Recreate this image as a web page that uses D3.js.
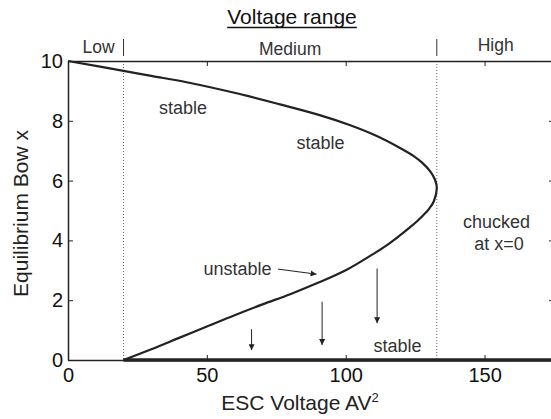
<!DOCTYPE html>
<html>
<head>
<meta charset="utf-8">
<script src="https://cdn.jsdelivr.net/npm/d3@7/dist/d3.min.js"></script>
<style>
  html, body { margin: 0; padding: 0; background: #fff; }
  svg { display: block; font-family: "Liberation Sans", Arial, Helvetica, sans-serif; }
</style>
</head>
<body>
<svg id="chart" width="551" height="419"></svg>
<script>
// Equilibrium bow versus ESC voltage: upper (stable) and lower (unstable) branches
const upperVoltage = [0, 20, 30, 42.7, 60.7, 76.3, 90.6, 101.4, 111, 119.4, 124.5, 127.5, 130.5, 132.2, 132.8];
const upperBow     = [10, 9.67, 9.5, 9.29, 8.92, 8.55, 8.19, 7.86, 7.5, 7.1, 6.82, 6.6, 6.3, 6.02, 5.75];
const lowerVoltage = [20, 30, 40, 50, 60, 70, 80, 90, 100, 110, 115, 119.3, 123, 125.8, 128, 129.8, 131.7, 132.8];
const lowerBow     = [0, 0.36, 0.74, 1.12, 1.5, 1.86, 2.2, 2.58, 3.0, 3.55, 3.85, 4.15, 4.43, 4.65, 4.85, 5.03, 5.3, 5.75];

// Range boundaries (voltage) and the chucked state along x = 0
const rangeBounds = [20, 132.8];
const chuckedFrom = 20;

// Downward arrows showing collapse toward x = 0
const dropVoltage = [66.1, 91.5, 111.3];
const dropFrom    = [1.03, 1.95, 3.06];
const dropTo      = [0.33, 0.5, 1.23];

const xTicks = [0, 50, 100, 150];
const yTicks = [0, 2, 4, 6, 8, 10];

const svg = d3.select("#chart");
const plotL = 68, plotR = 554, plotT = 61, plotB = 360;

const x = d3.scaleLinear().domain([0, 175]).range([plotL, plotR]);
const y = d3.scaleLinear().domain([0, 10]).range([plotB, plotT]);

const ink = "#222";
const textInk = "#333";

// arrowhead marker
svg.append("defs").append("marker")
  .attr("id", "head")
  .attr("viewBox", "0 0 10 10")
  .attr("refX", 10).attr("refY", 5)
  .attr("markerWidth", 6).attr("markerHeight", 6)
  .attr("markerUnits", "userSpaceOnUse")
  .attr("orient", "auto")
  .append("path").attr("d", "M0,0 L10,5 L0,10 Z").attr("fill", ink);

// region boundaries (dotted)
svg.selectAll("line.bound").data(rangeBounds).enter().append("line")
  .attr("class", "bound")
  .attr("x1", d => x(d)).attr("x2", d => x(d))
  .attr("y1", plotT).attr("y2", plotB)
  .attr("stroke", "#444").attr("stroke-width", 0.8)
  .attr("stroke-dasharray", "1,2");

// axes with inward ticks on all four sides
const xAxisB = d3.axisBottom(x).tickValues(xTicks).tickSizeInner(-5).tickSizeOuter(0).tickPadding(8);
const xAxisT = d3.axisTop(x).tickValues(xTicks).tickSizeInner(-5).tickSizeOuter(0).tickFormat("");
const yAxisL = d3.axisLeft(y).tickValues(yTicks).tickSizeInner(-5).tickSizeOuter(0).tickPadding(5);
const yAxisR = d3.axisRight(y).tickValues(yTicks).tickSizeInner(-5).tickSizeOuter(0).tickFormat("");

function styleAxis(g) {
  g.select(".domain").attr("stroke", ink).attr("stroke-width", 1.5);
  g.selectAll(".tick line").attr("stroke", ink).attr("stroke-width", 1);
  g.selectAll(".tick text").attr("fill", "#111").style("font-size", "20px")
    .style("font-family", "'Liberation Sans', Arial, Helvetica, sans-serif");
}

svg.append("g").attr("transform", `translate(0,${plotB})`).call(xAxisB).call(styleAxis);
svg.append("g").attr("transform", `translate(0,${plotT})`).call(xAxisT).call(styleAxis);
svg.append("g").attr("transform", `translate(${plotL},0)`).call(yAxisL).call(styleAxis);
svg.append("g").attr("transform", `translate(${plotR},0)`).call(yAxisR).call(styleAxis);

// chucked state: thick line at x = 0
svg.append("line")
  .attr("x1", x(chuckedFrom)).attr("x2", x(175))
  .attr("y1", y(0)).attr("y2", y(0))
  .attr("stroke", ink).attr("stroke-width", 3.5);

// equilibrium curve: upper branch then lower branch back down to x = 0
const curvePts = upperVoltage.map((v, i) => [v, upperBow[i]])
  .concat(lowerVoltage.map((v, i) => [v, lowerBow[i]]).reverse().slice(1));

svg.append("path")
  .datum(curvePts)
  .attr("fill", "none")
  .attr("stroke", ink)
  .attr("stroke-width", 2.2)
  .attr("stroke-linejoin", "round")
  .attr("d", d3.line().x(d => x(d[0])).y(d => y(d[1])).curve(d3.curveCatmullRom.alpha(0.5)));

// downward arrows
svg.selectAll("line.drop").data(dropVoltage).enter().append("line")
  .attr("class", "drop")
  .attr("x1", d => x(d)).attr("x2", d => x(d))
  .attr("y1", (d, i) => y(dropFrom[i])).attr("y2", (d, i) => y(dropTo[i]))
  .attr("stroke", ink).attr("stroke-width", 1)
  .attr("marker-end", "url(#head)");

// pointer from "unstable" label to the lower branch
svg.append("line")
  .attr("x1", x(75.6)).attr("y1", y(3.04))
  .attr("x2", x(89.5)).attr("y2", y(2.87))
  .attr("stroke", ink).attr("stroke-width", 1)
  .attr("marker-end", "url(#head)");

// annotations
const ann = svg.append("g").attr("fill", textInk).style("font-size", "18px");
const notes = [
  { t: "stable", x: 183, y: 114 },
  { t: "stable", x: 320.5, y: 149 },
  { t: "unstable", x: 237.5, y: 275 },
  { t: "stable", x: 397.5, y: 352 },
  { t: "chucked", x: 496.5, y: 228 },
  { t: "at x=0", x: 499, y: 250 }
];
ann.selectAll("text").data(notes).enter().append("text")
  .attr("x", d => d.x).attr("y", d => d.y)
  .attr("text-anchor", "middle").text(d => d.t);

// voltage range header
const header = svg.append("g").attr("fill", textInk).style("font-size", "17.5px");
header.append("text").attr("x", x(11)).attr("y", 53).attr("text-anchor", "middle").text("Low");
header.append("text").attr("x", x(80)).attr("y", 55).attr("text-anchor", "middle").text("Medium");
header.append("text").attr("x", x(154)).attr("y", 51).attr("text-anchor", "middle").text("High");
svg.selectAll("line.sep").data(rangeBounds).enter().append("line")
  .attr("class", "sep")
  .attr("x1", d => x(d)).attr("x2", d => x(d))
  .attr("y1", 39).attr("y2", 56)
  .attr("stroke", textInk).attr("stroke-width", 1);

const title = svg.append("text")
  .attr("x", 292).attr("y", 24)
  .attr("text-anchor", "middle")
  .attr("fill", "#111")
  .style("font-size", "21px")
  .text("Voltage range");
const tb = title.node().getBBox();
svg.append("line")
  .attr("x1", tb.x).attr("x2", tb.x + tb.width)
  .attr("y1", 27.5).attr("y2", 27.5)
  .attr("stroke", "#111").attr("stroke-width", 1.5);

// axis titles
const xt = svg.append("text")
  .attr("x", 300).attr("y", 410)
  .attr("text-anchor", "middle")
  .attr("fill", "#222")
  .style("font-size", "21px");
xt.append("tspan").text("ESC Voltage AV");
xt.append("tspan").attr("dy", -8).style("font-size", "13px").text("2");

svg.append("text")
  .attr("transform", `translate(28,${(plotT + plotB) / 2 + 3}) rotate(-90)`)
  .attr("text-anchor", "middle")
  .attr("fill", "#222")
  .style("font-size", "21px")
  .text("Equilibrium Bow x");
</script>
</body>
</html>
